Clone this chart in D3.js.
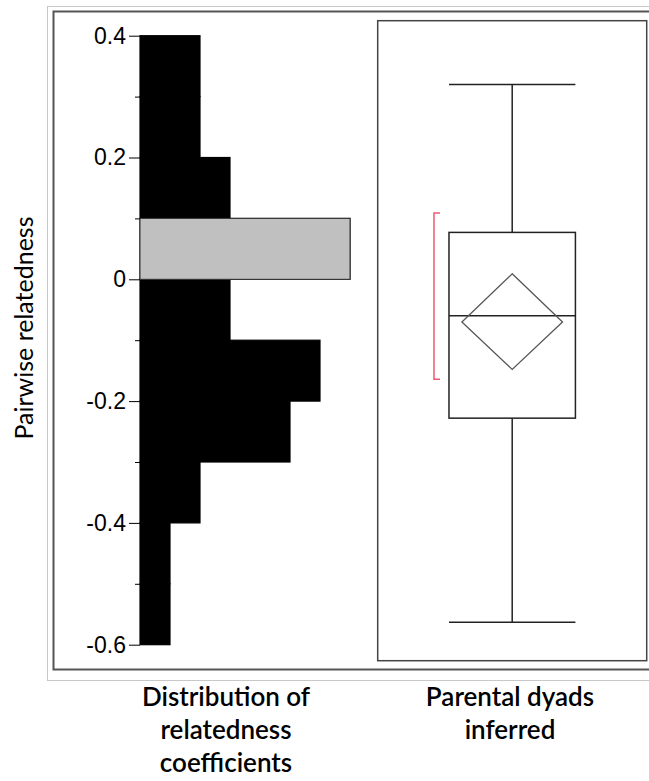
<!DOCTYPE html>
<html>
<head>
<meta charset="utf-8">
<script src="https://cdn.jsdelivr.net/npm/d3@7"></script>
<style>
  body { margin: 0; background: #fff; }
  svg { display: block; }
</style>
</head>
<body>
<div id="chart"></div>
<script>
  // histogram bins (lower edge, width 0.1) and counts
  var binLow = [0.3, 0.2, 0.1, 0.0, -0.1, -0.2, -0.3, -0.4, -0.5, -0.6];
  var binCount = [2, 2, 3, 7, 3, 6, 5, 2, 1, 1];
  var binWidth = 0.1;
  var highlightBin = 0.0;

  // y axis ticks
  var majorTicks = [0.4, 0.2, 0, -0.2, -0.4, -0.6];
  var minorTicks = [0.3, 0.1, -0.1, -0.3, -0.5];

  // box plot summary for parental dyads
  var groups = ["Parental dyads inferred"];
  var whiskerHigh = [0.32];
  var q3 = [0.077];
  var median = [-0.06];
  var q1 = [-0.228];
  var whiskerLow = [-0.563];
  var meanVal = [-0.07];
  var meanCI = [[-0.148, 0.009]];
  var shortestHalf = [[-0.164, 0.109]];

  var width = 649, height = 781;

  var svg = d3.select("#chart").append("svg")
    .attr("width", width)
    .attr("height", height);

  // outer frames
  svg.append("rect")
    .attr("x", 47.5).attr("y", 6.5)
    .attr("width", 640).attr("height", 674)
    .attr("fill", "none").attr("stroke", "#c8c8c8").attr("stroke-width", 1);
  svg.append("rect")
    .attr("x", 53.5).attr("y", 11.5)
    .attr("width", 640).attr("height", 658)
    .attr("fill", "none").attr("stroke", "#555").attr("stroke-width", 2);

  var y = d3.scaleLinear()
    .domain([-0.6, 0.4])
    .range([644.7, 35.7]);

  var x = d3.scaleLinear()
    .domain([0, 7])
    .range([140, 350]);

  // y axis
  svg.append("g")
    .attr("transform", "translate(140,0)")
    .call(d3.axisLeft(y).tickValues(majorTicks).tickSize(11).tickPadding(3)
      .tickFormat(function(d) { return d === 0 ? "0" : d.toFixed(1); }))
    .call(function(g) { g.select(".domain").remove(); })
    .call(function(g) {
      g.selectAll("text")
        .attr("font-family", "'Liberation Sans', Arial, sans-serif")
        .attr("font-size", 23)
        .attr("fill", "#000");
      g.selectAll("line").attr("stroke", "#000");
    });

  svg.append("g")
    .attr("transform", "translate(140,0)")
    .call(d3.axisLeft(y).tickValues(minorTicks).tickSize(5).tickFormat(""))
    .call(function(g) { g.select(".domain").remove(); })
    .selectAll("line").attr("stroke", "#000");

  // histogram bars
  svg.selectAll("rect.bar")
    .data(binLow)
    .enter().append("rect")
    .attr("class", "bar")
    .attr("x", x(0))
    .attr("y", function(d) { return y(d + binWidth); })
    .attr("width", function(d, i) { return x(binCount[i]) - x(0); })
    .attr("height", function(d) { return y(d) - y(d + binWidth); })
    .attr("fill", "#000")
    .attr("stroke", "#000")
    .attr("stroke-width", 1.2);

  // highlighted bin drawn on top
  var hi = binLow.indexOf(highlightBin);
  svg.append("rect")
    .attr("x", x(0))
    .attr("y", y(highlightBin + binWidth))
    .attr("width", x(binCount[hi]) - x(0))
    .attr("height", y(highlightBin) - y(highlightBin + binWidth))
    .attr("fill", "#c0c0c0")
    .attr("stroke", "#333")
    .attr("stroke-width", 1);

  // right panel
  var bx = d3.scaleBand()
    .domain(groups)
    .range([377.7, 646.7]);

  svg.append("rect")
    .attr("x", 377.7).attr("y", 20.7)
    .attr("width", 269).attr("height", 640)
    .attr("fill", "none").attr("stroke", "#444").attr("stroke-width", 1.5);

  var boxHalf = bx.bandwidth() * 0.235;
  var diamondHalf = bx.bandwidth() * 0.187;

  groups.forEach(function(g, i) {
    var cx = bx(g) + bx.bandwidth() / 2;
    var gg = svg.append("g")
      .attr("fill", "none")
      .attr("stroke", "#222")
      .attr("stroke-width", 1.5);

    // whiskers
    gg.append("line")
      .attr("x1", cx).attr("x2", cx)
      .attr("y1", y(whiskerHigh[i])).attr("y2", y(q3[i]));
    gg.append("line")
      .attr("x1", cx).attr("x2", cx)
      .attr("y1", y(q1[i])).attr("y2", y(whiskerLow[i]));
    gg.append("line")
      .attr("x1", cx - boxHalf).attr("x2", cx + boxHalf)
      .attr("y1", y(whiskerHigh[i])).attr("y2", y(whiskerHigh[i]));
    gg.append("line")
      .attr("x1", cx - boxHalf).attr("x2", cx + boxHalf)
      .attr("y1", y(whiskerLow[i])).attr("y2", y(whiskerLow[i]));

    // box and median
    gg.append("rect")
      .attr("x", cx - boxHalf)
      .attr("y", y(q3[i]))
      .attr("width", boxHalf * 2)
      .attr("height", y(q1[i]) - y(q3[i]));
    gg.append("line")
      .attr("x1", cx - boxHalf).attr("x2", cx + boxHalf)
      .attr("y1", y(median[i])).attr("y2", y(median[i]));

    // mean diamond
    var pts = [
      [cx, y(meanCI[i][1])],
      [cx + diamondHalf, y(meanVal[i])],
      [cx, y(meanCI[i][0])],
      [cx - diamondHalf, y(meanVal[i])]
    ];
    svg.append("path")
      .attr("d", d3.line()(pts) + "Z")
      .attr("fill", "none")
      .attr("stroke", "#555")
      .attr("stroke-width", 1.3);

    // shortest half bracket
    var sx = cx - boxHalf - 15;
    svg.append("path")
      .attr("d", d3.line()([
        [sx + 6, y(shortestHalf[i][1])],
        [sx, y(shortestHalf[i][1])],
        [sx, y(shortestHalf[i][0])],
        [sx + 6, y(shortestHalf[i][0])]
      ]))
      .attr("fill", "none")
      .attr("stroke", "#ee5a6e")
      .attr("stroke-width", 1.5);
  });

  // axis title
  svg.append("text")
    .attr("transform", "translate(33,328) rotate(-90)")
    .attr("text-anchor", "middle")
    .attr("font-family", "Lato, 'Open Sans', sans-serif")
    .attr("font-size", 25)
    .attr("fill", "#000")
    .text("Pairwise relatedness");

  // bottom labels
  var bottomLabels = [
    { cx: 226, lines: ["Distribution of", "relatedness", "coefficients"] },
    { cx: 510, lines: ["Parental dyads", "inferred"] }
  ];
  bottomLabels.forEach(function(b) {
    var t = svg.append("text")
      .attr("text-anchor", "middle")
      .attr("font-family", "Lato, 'Open Sans', sans-serif")
      .attr("font-size", 26)
      .attr("font-weight", 600)
      .attr("fill", "#000");
    b.lines.forEach(function(l, j) {
      t.append("tspan")
        .attr("x", b.cx)
        .attr("y", 705.5 + j * 33.3)
        .text(l);
    });
  });
</script>
</body>
</html>
